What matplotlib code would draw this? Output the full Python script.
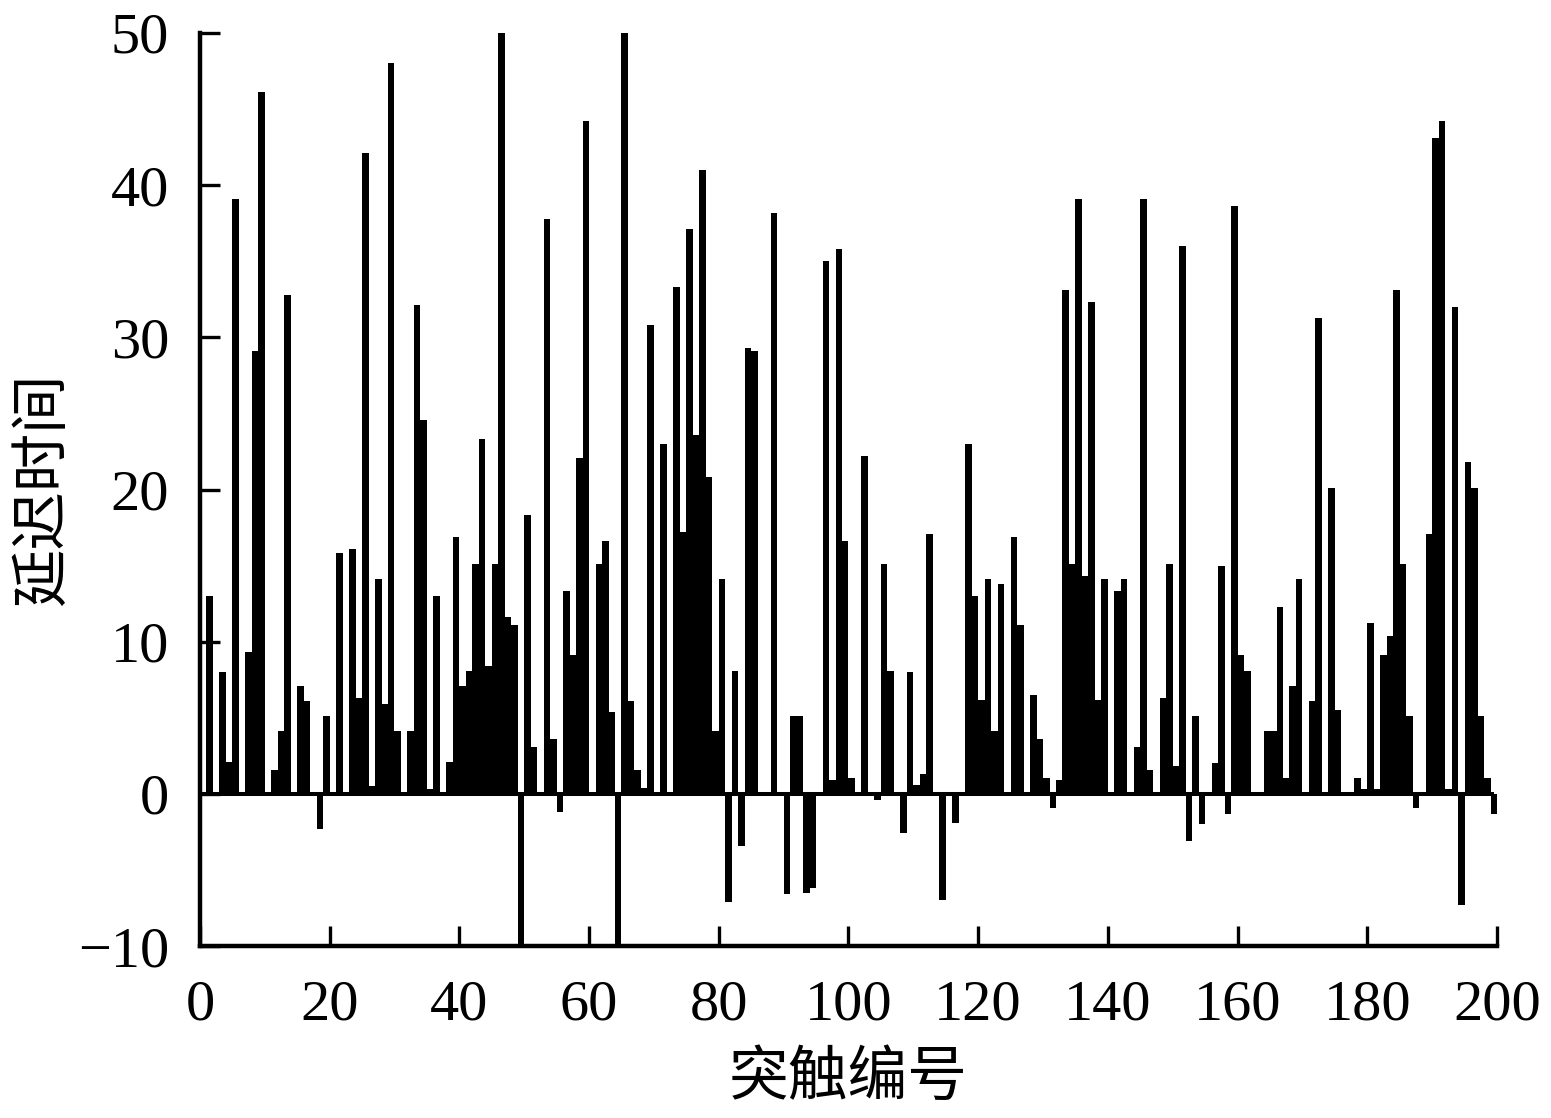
import numpy as np
import matplotlib
matplotlib.use("Agg")
import matplotlib.pyplot as plt

# synapse index (1..200) and delay time
synapse = np.arange(1, 201)
delay = [
    0, 13.0, 0, 8.0, 2.1, 39.1, 0, 9.3, 29.1, 46.1,
    0, 1.6, 4.1, 32.8, 0, 7.1, 6.1, 0, -2.3, 5.1,
    0, 15.8, 0, 16.1, 6.3, 42.1, 0.5, 14.1, 5.9, 48.0,
    4.1, 0, 4.1, 32.1, 24.6, 0.3, 13.0, 0, 2.1, 16.9,
    7.1, 8.1, 15.1, 23.3, 8.4, 15.1, 52.0, 11.6, 11.1, -10.5,
    18.3, 3.1, 0, 37.8, 3.6, -1.2, 13.3, 9.1, 22.1, 44.2,
    0, 15.1, 16.6, 5.4, -10.5, 52.0, 6.1, 1.6, 0.4, 30.8,
    0, 23.0, 0, 33.3, 17.2, 37.1, 23.6, 41.0, 20.8, 4.1,
    14.1, -7.1, 8.1, -3.4, 29.3, 29.1, 0, 0, 38.2, 0,
    -6.6, 5.1, 5.1, -6.5, -6.2, 0, 35.0, 0.9, 35.8, 16.6,
    1.05, 0, 22.2, 0, -0.4, 15.1, 8.1, 0, -2.6, 8.0,
    0.6, 1.3, 17.1, 0, -7.0, 0, -1.9, 0, 23.0, 13.0,
    6.2, 14.1, 4.1, 13.8, 0, 16.9, 11.1, 0, 6.5, 3.6,
    1.05, -0.9, 0.9, 33.1, 15.1, 39.1, 14.3, 32.3, 6.2, 14.1,
    0, 13.3, 14.1, 0, 3.1, 39.1, 1.6, 0, 6.3, 15.1,
    1.8, 36.0, -3.1, 5.1, -2.0, 0, 2.0, 15.0, -1.3, 38.6,
    9.1, 8.1, 0, 0, 4.1, 4.1, 12.3, 1.05, 7.1, 14.1,
    0, 6.1, 31.3, 0, 20.1, 5.5, 0, 0, 1.05, 0.3,
    11.2, 0.3, 9.1, 10.4, 33.1, 15.1, 5.1, -0.9, 0, 17.1,
    43.1, 44.2, 0.3, 32.0, -7.3, 21.8, 20.1, 5.1, 1.05, -1.3,
]
xticks = [0, 20, 40, 60, 80, 100, 120, 140, 160, 180, 200]
yticks = [-10, 0, 10, 20, 30, 40, 50]
xlabel = "突触编号"
ylabel = "延迟时间"

fig = plt.figure(figsize=(15.51, 11.18), dpi=100)
ax = fig.add_axes([0.1289, 0.1538, 0.8363, 0.8167])

ax.bar(synapse - 0.5, delay, width=1.0, color="black", linewidth=0)
ax.plot([0, 199.5], [0, 0], color="black", linewidth=2.9, solid_capstyle="butt")

ax.set_xlim(0, 200)
ax.set_ylim(-10, 50)
ax.set_xticks(xticks)
ax.set_yticks(yticks)

for s in ["top", "right"]:
    ax.spines[s].set_visible(False)
for s in ["left", "bottom"]:
    ax.spines[s].set_linewidth(3.2)

ax.tick_params(axis="both", direction="in", length=14.5, width=2.4,
               colors="black")
ax.tick_params(axis="x", pad=24)
ax.tick_params(axis="y", pad=22)
for lab in ax.get_xticklabels() + ax.get_yticklabels():
    lab.set_fontfamily("Liberation Serif")
    lab.set_fontsize(42)

cjk = ["Noto Sans CJK SC", "DejaVu Sans"]
ax.set_xlabel(xlabel, fontsize=43, family=cjk, labelpad=12)
ax.set_ylabel(ylabel, fontsize=42, family=cjk, labelpad=4)

fig.savefig("out.png", dpi=100)
